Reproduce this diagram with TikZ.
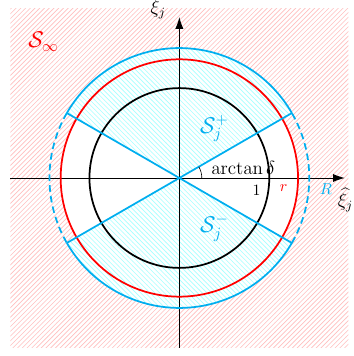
\documentclass[tikz,border=0pt]{standalone}
\usetikzlibrary{patterns,arrows.meta}
\definecolor{skyc}{RGB}{0,174,239}
\tikzset{
  circ/.style={line width=1.1pt},
  blueline/.style={skyc,line width=1.1pt},
  axis/.style={line width=0.6pt,-{Latex[length=2.6mm,width=1.8mm]}},
}
\begin{document}
\begin{tikzpicture}
\useasboundingbox (-3.99,-3.96) rectangle (3.88,3.96);
\def\ra{2}\def\rb{2.64}\def\rc{2.89}
% pink hatch outside red circle
\fill[pattern=north east lines, pattern color=red!25] (-3.76,-3.76) rectangle (3.76,3.76);
\fill[white] (0,0) circle (\rb);
% sectors
\fill[white] (0,0) -- (30:\rc) arc (30:150:\rc) -- cycle;
\fill[white] (0,0) -- (210:\rc) arc (210:330:\rc) -- cycle;
\fill[pattern=north west lines, pattern color=cyan!35] (0,0) -- (30:\rc) arc (30:150:\rc) -- cycle;
\fill[pattern=north west lines, pattern color=cyan!35] (0,0) -- (210:\rc) arc (210:330:\rc) -- cycle;
% axes
\coordinate (O) at (0,0);
\coordinate (xl) at (-3.76,0);
\coordinate (xr) at (3.68,0);
\coordinate (yb) at (0,-3.78);
\coordinate (yt) at (0,3.58);
\draw[axis] (xl) -- (xr);
\draw[axis] (yb) -- (yt);
% circles
\draw[circ,black] (O) circle (\ra);
\draw[circ,red] (O) circle (\rb);
\draw[blueline] (30:\rc) arc (30:150:\rc);
\draw[blueline] (210:\rc) arc (210:330:\rc);
\draw[blueline,dash pattern=on 4.2pt off 2.6pt] (150:\rc) arc (150:210:\rc);
\draw[blueline,dash pattern=on 4.2pt off 2.6pt] (-30:\rc) arc (-30:30:\rc);
% radial lines
\coordinate (p30) at (30:\rc);
\coordinate (p150) at (150:\rc);
\coordinate (p210) at (210:\rc);
\coordinate (p330) at (330:\rc);
\draw[blueline] (p210) -- (p30);
\draw[blueline] (p150) -- (p330);
% angle arc
\draw[line width=0.4pt] (0.5,0) arc (0:30:0.5);
% labels
\node (xij) at (-0.47,3.74) {\large$\xi_j$};
\node[anchor=west,inner sep=0pt] (xihat) at (3.52,-0.49) {\large$\widehat{\xi_j}$};
\node[red] (Sinf) at (-3.02,3.03) {\Large$\mathcal{S}_\infty$};
\node[skyc] (Sp) at (0.78,1.11) {\Large$\mathcal{S}_j^+$};
\node[skyc] (Sm) at (0.78,-1.11) {\Large$\mathcal{S}_j^-$};
\node (arc) at (1.42,0.22) {\large$\arctan\delta$};
\node (one) at (1.72,-0.27) {$1$};
\node[red] (rr) at (2.32,-0.22) {$r$};
\node[skyc] (RR) at (3.26,-0.24) {$R$};
\end{tikzpicture}
\end{document}
